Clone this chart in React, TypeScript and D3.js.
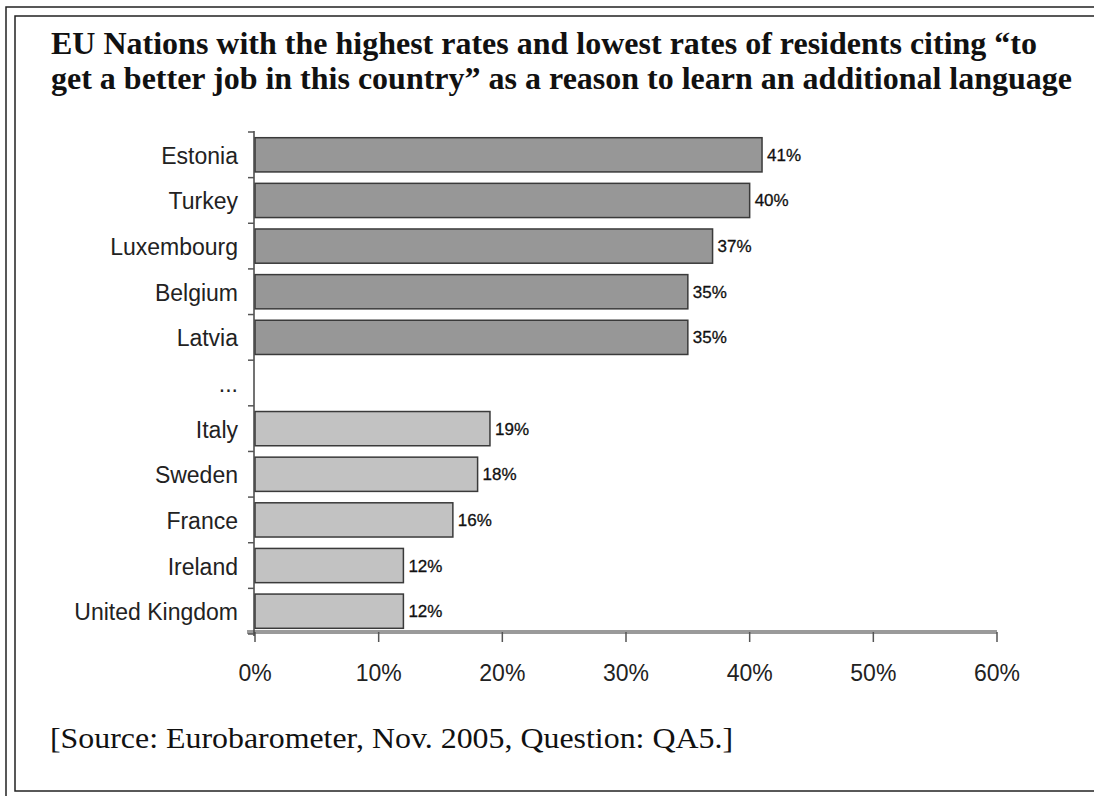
import React from "react";
import * as d3 from "d3";

const countries = [
  "Estonia",
  "Turkey",
  "Luxembourg",
  "Belgium",
  "Latvia",
  "...",
  "Italy",
  "Sweden",
  "France",
  "Ireland",
  "United Kingdom",
];
const values: (number | null)[] = [41, 40, 37, 35, 35, null, 19, 18, 16, 12, 12];
const groups = ["high", "high", "high", "high", "high", "gap", "low", "low", "low", "low", "low"];
const xTicks = [0, 10, 20, 30, 40, 50, 60];

const titleLines = [
  "EU Nations with the highest rates and lowest rates of residents citing \u201Cto",
  "get a better job in this country\u201D as a reason to learn an additional language",
];
const sourceText = "[Source: Eurobarometer, Nov. 2005, Question: QA5.]";

const W = 1094;
const H = 796;

export default function App() {
  const x = d3.scaleLinear().domain([0, 60]).range([255, 997]);
  const y = d3.scaleBand().domain(countries).range([132, 634]).paddingInner(0.25).paddingOuter(0.125);
  const step = y.step();
  const boundaries = d3.range(countries.length + 1).map((i) => 132 + i * step);
  const fillFor = (g: string) => (g === "high" ? "#979797" : "#c2c2c2");
  const sans = "'Liberation Sans', Arial, sans-serif";
  const serif = "'Liberation Serif', 'Times New Roman', serif";

  return (
    <svg
      width={W}
      height={H}
      style={{ position: "fixed", left: 0, top: 0, background: "#fff" }}
    >
      <rect x={0} y={0} width={W} height={H} fill="#fff" />
      {/* frame */}
      <rect x={6} y={7} width={W + 20} height={H + 20} fill="none" stroke="#222" strokeWidth={1.5} />
      <rect x={15} y={16} width={W + 20} height={791 - 16} fill="none" stroke="#222" strokeWidth={1.5} />

      {/* title */}
      {titleLines.map((t, i) => (
        <text
          key={i}
          x={51}
          y={54 + i * 35}
          fontFamily={serif}
          fontWeight="bold"
          fontSize={31}
          fill="#111"
          textLength={i === 0 ? 986 : 1021}
          lengthAdjust="spacingAndGlyphs"
        >
          {t}
        </text>
      ))}

      {/* bars */}
      {countries.map((c, i) =>
        values[i] == null ? null : (
          <g key={c}>
            <rect
              x={x(0)}
              y={y(c)!}
              width={x(values[i] as number) - x(0)}
              height={y.bandwidth()}
              fill={fillFor(groups[i])}
              stroke="#3a3a3a"
              strokeWidth={1.5}
            />
            <text
              x={x(values[i] as number) + 5}
              y={y(c)! + y.bandwidth() / 2 + 6}
              fontFamily={sans}
              fontSize={17}
              fill="#111"
              stroke="#111"
              strokeWidth={0.3}
            >
              {values[i]}%
            </text>
          </g>
        )
      )}

      {/* x axis band */}
      <line x1={247} x2={x(60)} y1={632} y2={632} stroke="#9a9a9a" strokeWidth={4} />
      {xTicks.map((t) => (
        <g key={t}>
          <line x1={x(t)} x2={x(t)} y1={632} y2={642} stroke="#555" strokeWidth={1.5} />
          <text
            x={x(t)}
            y={681}
            textAnchor="middle"
            fontFamily={sans}
            fontSize={23}
            fill="#222"
          >
            {t}%
          </text>
        </g>
      ))}

      {/* y axis */}
      <line x1={254} x2={254} y1={131} y2={636} stroke="#444" strokeWidth={1.5} />
      {boundaries.map((b, i) => (
        <line key={i} x1={248} x2={254} y1={b} y2={b} stroke="#555" strokeWidth={1.5} />
      ))}
      {countries.map((c) => (
        <text
          key={c}
          x={238}
          y={y(c)! + y.bandwidth() / 2 + 9}
          textAnchor="end"
          fontFamily={sans}
          fontSize={23}
          fill="#222"
        >
          {c}
        </text>
      ))}

      {/* source */}
      <text
        x={50}
        y={748}
        fontFamily={serif}
        fontSize={29}
        fill="#111"
        textLength={683}
        lengthAdjust="spacingAndGlyphs"
      >
        {sourceText}
      </text>
    </svg>
  );
}
